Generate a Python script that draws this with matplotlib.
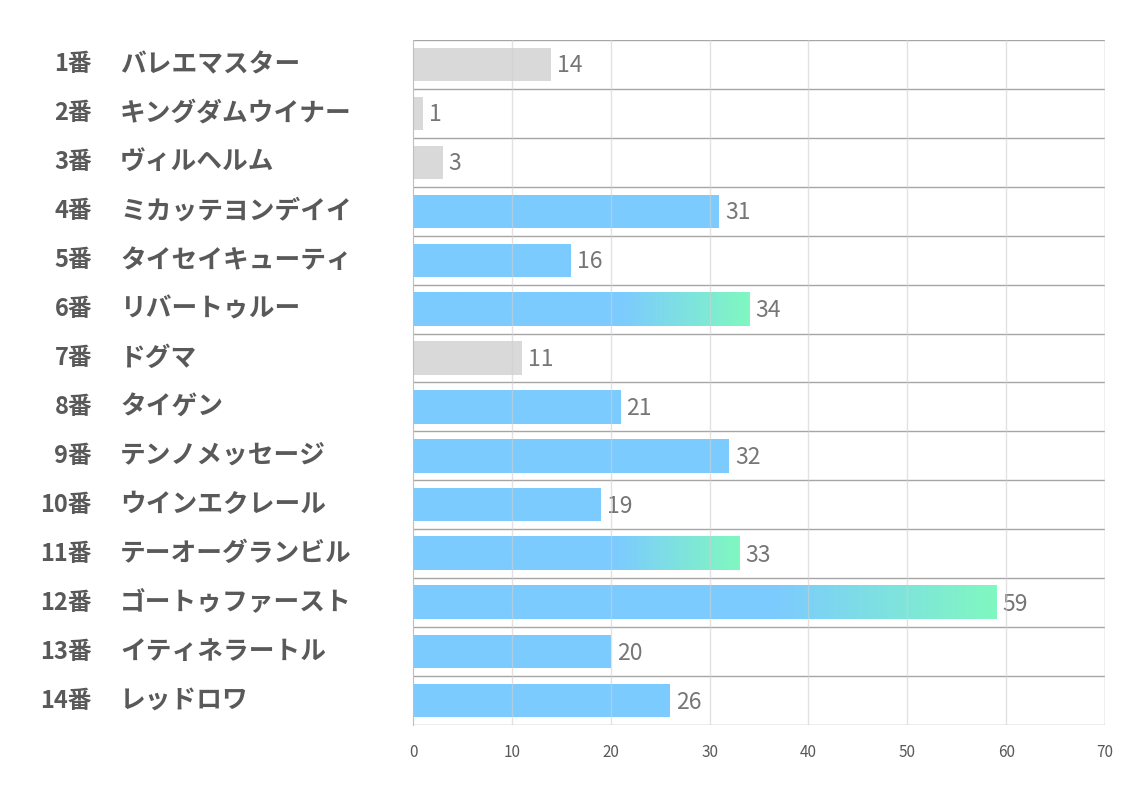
import numpy as np
import matplotlib.pyplot as plt
from matplotlib.colors import LinearSegmentedColormap
from matplotlib.transforms import blended_transform_factory

plt.rcParams['font.family'] = ['Noto Sans CJK JP', 'DejaVu Sans']

numbers = ['1番', '2番', '3番', '4番', '5番', '6番', '7番', '8番', '9番',
           '10番', '11番', '12番', '13番', '14番']
names = ['バレエマスター', 'キングダムウイナー', 'ヴィルヘルム', 'ミカッテヨンデイイ',
         'タイセイキューティ', 'リバートゥルー', 'ドグマ', 'タイゲン', 'テンノメッセージ',
         'ウインエクレール', 'テーオーグランビル', 'ゴートゥファースト', 'イティネラートル',
         'レッドロワ']
values = [14, 1, 3, 31, 16, 34, 11, 21, 32, 19, 33, 59, 20, 26]
kind = ['gray', 'gray', 'gray', 'blue', 'blue', 'grad', 'gray', 'blue', 'blue',
        'blue', 'grad', 'grad', 'blue', 'blue']

gray = '#d9d9d9'
blue = '#7ccbff'
green = '#80f8c0'

fig = plt.figure(figsize=(11.34, 7.93), dpi=100)
ax = fig.add_axes([413 / 1134, 1 - 725 / 793, (1105 - 413) / 1134, (725 - 40) / 793])

n = len(values)
ax.set_xlim(0, 70)
ax.set_ylim(n, 0)
h = 0.68

grad_cmap = LinearSegmentedColormap.from_list('g', [(0, blue), (0.62, blue), (1, green)])
lab_tr = blended_transform_factory(fig.transFigure, ax.transData)

for i, v in enumerate(values):
    yc = i + 0.5
    if kind[i] == 'grad':
        img = np.linspace(0, 1, 256).reshape(1, -1)
        ax.imshow(img, cmap=grad_cmap, aspect='auto', extent=[0, v, yc + h / 2, yc - h / 2],
                  zorder=2, interpolation='bilinear')
    else:
        ax.barh(yc, v, height=h, color=gray if kind[i] == 'gray' else blue, zorder=2)
    ax.text(v + 0.6, yc + 0.03, str(v), va='center', ha='left', fontsize=16.5, color='#767676')
    ax.text(92 / 1134, yc, numbers[i], transform=lab_tr,
            ha='right', va='center', fontsize=17, fontweight='bold', color='#595959')
    ax.text(120 / 1134, yc, names[i], transform=lab_tr,
            ha='left', va='center', fontsize=18.5, fontweight='bold', color='#595959')

# grid
for x in range(10, 71, 10):
    ax.axvline(x, color='#d0d0d0', lw=1, zorder=3, alpha=0.6)
for y in range(0, n + 1):
    ax.axhline(y, color='#a6a6a6', lw=1, zorder=1)

ax.set_xticks(range(0, 71, 10))
ax.set_yticks([])
ax.tick_params(axis='x', length=0, pad=14, labelsize=11, labelcolor='#595959')
for s in ['top', 'bottom', 'right']:
    ax.spines[s].set_visible(False)
ax.spines['left'].set_color('#bfbfbf')
ax.axvline(70, color='#d0d0d0', lw=1, zorder=3)

fig.savefig('out.png', dpi=100)
